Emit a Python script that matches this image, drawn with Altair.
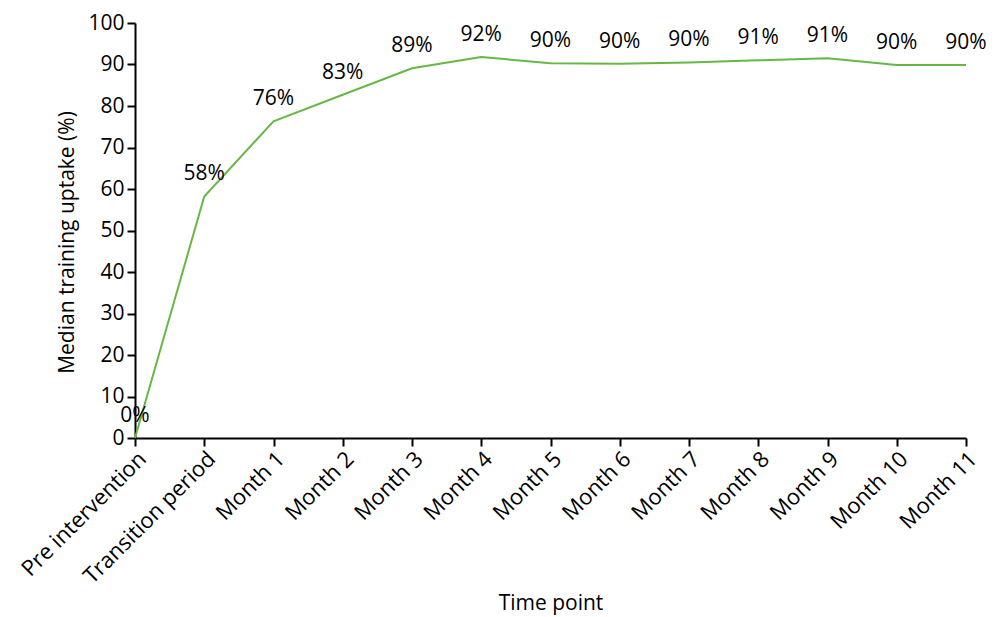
import altair as alt
import pandas as pd

categories = ["Pre intervention", "Transition period", "Month 1", "Month 2", "Month 3",
              "Month 4", "Month 5", "Month 6", "Month 7", "Month 8", "Month 9",
              "Month 10", "Month 11"]
values = [0, 58.2, 76.3, 82.7, 89.1, 91.8, 90.3, 90.2, 90.5, 91.0, 91.5, 89.9, 89.9]
labels = ["0%", "58%", "76%", "83%", "89%", "92%", "90%", "90%", "90%", "91%", "91%", "90%", "90%"]

df = pd.DataFrame({"cat": categories, "val": values, "lab": labels})

FONT = "Open Sans"
FS = 21

x = alt.X("cat:N", sort=categories, title="Time point",
          scale=alt.Scale(type="point", padding=0),
          axis=alt.Axis(labelAngle=-45, labelAlign="right", labelBaseline="top",
                        labelFontSize=22, titleFontSize=FS, labelPadding=2,
                        titlePadding=5, tickSize=8, tickWidth=2, domainWidth=2,
                        domainColor="black", tickColor="black", labelColor="black",
                        titleColor="black", titleFontWeight="normal", labelFont=FONT,
                        titleFont=FONT, grid=False))
y = alt.Y("val:Q", title="Median training uptake (%)",
          scale=alt.Scale(domain=[0, 100], nice=False),
          axis=alt.Axis(values=list(range(0, 101, 10)), labelFontSize=FS, titleFontSize=FS,
                        tickSize=8, tickWidth=2, domainWidth=2, domainColor="black",
                        tickColor="black", labelColor="black", titleColor="black",
                        titleFontWeight="normal", labelFont=FONT, titleFont=FONT,
                        titlePadding=10, labelPadding=3, titleY=219, grid=False))

base = alt.Chart(df)
line = base.mark_line(color="#66b845", strokeWidth=2).encode(x=x, y=y)
text = base.mark_text(fontSize=FS, font=FONT, color="black", baseline="alphabetic",
                      dy=-16).encode(x=x, y=y, text="lab:N")

chart = (line + text).properties(
    width=831, height=415,
    autosize=alt.AutoSizeParams(type="none"),
    padding={"left": 127, "top": 15, "right": 20, "bottom": 178},
).configure_view(stroke=None)

chart.save("out.html", embed_options={"renderer": "svg", "actions": False})
